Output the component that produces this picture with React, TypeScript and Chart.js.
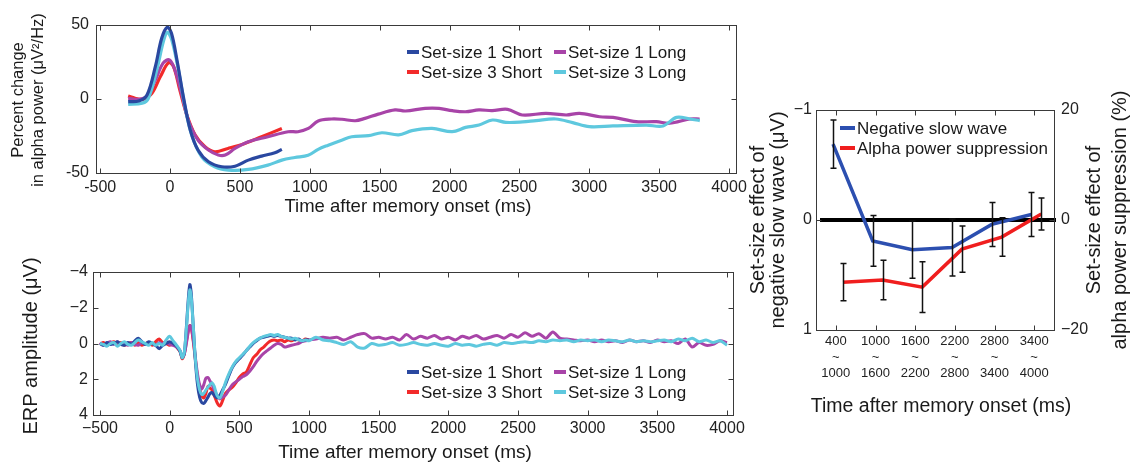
import React, { useEffect, useRef } from "react";
import { Chart, registerables } from "chart.js";
Chart.register(...registerables);

const FONT = "'Liberation Sans', Arial, Helvetica, sans-serif";
const W = 1131;
const H = 467;

const C_BLUE = "#2a48a0";
const C_RED = "#f22a2a";
const C_MAGENTA = "#a844a8";
const C_CYAN = "#5ec8de";
const C_RP_BLUE = "#2c4fb0";
const C_RP_RED = "#f01e1e";

const seriesLabels = ["Set-size 1 Short", "Set-size 3 Short", "Set-size 1 Long", "Set-size 3 Long"];

// ---------- Top panel: alpha power percent change ----------
const alphaTicksX = [-500, 0, 500, 1000, 1500, 2000, 2500, 3000, 3500, 4000];
const alphaTicksY = [-50, 0, 50];

const alphaSS1ShortTimes = [-300, -225, -165, -105, -60, -20, 10, 50, 95, 145, 200, 275, 370, 465, 560, 655, 750, 800];
const alphaSS1ShortValues = [-1.8, -1.4, 2.7, 22, 41, 48.5, 44.5, 26, 1.6, -21, -34.5, -42.4, -45.8, -45.4, -41.3, -38.6, -36.3, -34];

const alphaSS3ShortTimes = [-300, -250, -190, -130, -70, -10, 25, 70, 120, 180, 250, 320, 415, 535, 655, 800];
const alphaSS3ShortValues = [2, 0.5, -0.2, 3.8, 15, 24.6, 21.9, 6.1, -10.8, -24.4, -32.3, -35.7, -33.4, -30, -25.5, -19.9];

const alphaSS1LongTimes = [-300, -225, -165, -105, -50, -5, 35, 85, 130, 200, 275, 345, 395, 465, 560, 700, 845, 915, 990, 1060, 1155, 1230, 1325, 1395, 1490, 1610, 1685, 1825, 1925, 2020, 2115, 2210, 2305, 2415, 2520, 2690, 2835, 2930, 3075, 3170, 3335, 3480, 3575, 3720, 3790];
const alphaSS1LongValues = [0.5, -0.2, 2, 12.9, 24.2, 26.4, 19.6, 2.7, -14.2, -27.8, -34.5, -37.9, -37.9, -33.4, -28.9, -25.5, -22.1, -22.1, -19.9, -14.8, -13.5, -13.7, -14.7, -13.1, -10.2, -7.4, -8.1, -6.3, -6.3, -7.9, -8.6, -7.4, -7.8, -7, -10.8, -9.7, -10.8, -9.7, -12, -12.4, -15.3, -15.3, -16.4, -13.5, -13.5];

const alphaSS3LongTimes = [-300, -200, -155, -95, -48, -20, 12, 60, 107, 155, 226, 320, 417, 560, 700, 800, 893, 988, 1060, 1132, 1228, 1300, 1420, 1516, 1636, 1731, 1875, 2019, 2115, 2211, 2307, 2403, 2523, 2619, 2761, 2881, 3001, 3169, 3408, 3528, 3624, 3720, 3791];
const alphaSS3LongValues = [-3.6, -2.9, 0.5, 19.6, 38.8, 45, 40, 19.6, -5.2, -24.4, -39, -45.8, -48, -47.6, -44.7, -41.3, -39.5, -38, -34, -31.2, -27.8, -25.5, -24.8, -22.8, -24.2, -21.4, -19.9, -22.1, -19.2, -17.6, -14.2, -15.8, -15.5, -14.6, -13.5, -16, -18.7, -18.2, -17.6, -18.2, -12.4, -13.5, -14.6];

// ---------- Bottom panel: ERP ----------
const erpTicksX = [-500, 0, 500, 1000, 1500, 2000, 2500, 3000, 3500, 4000];
const erpTicksY = [-4, -2, 0, 2, 4];

const erpTimesEarly = [-500, -475, -450, -425, -400, -375, -350, -325, -300, -275, -250, -225, -200, -175, -150, -125, -100, -75, -50, -25, 0, 25, 50, 75, 90, 105, 120, 135, 145, 155, 170, 185, 200, 215, 230, 245, 260, 275, 290, 305, 320, 340, 360, 380, 400, 425, 450, 475, 500, 525, 550, 575, 600, 625, 650, 675, 700, 725, 750, 775, 800, 825, 850, 875, 900, 925, 950, 975, 1000];
const erpTimesLate = [1050, 1100, 1150, 1200, 1250, 1300, 1350, 1400, 1450, 1500, 1550, 1600, 1650, 1700, 1750, 1800, 1850, 1900, 1950, 2000, 2050, 2100, 2150, 2200, 2250, 2300, 2350, 2400, 2450, 2500, 2550, 2600, 2650, 2700, 2750, 2800, 2850, 2900, 2950, 3000, 3050, 3100, 3150, 3200, 3250, 3300, 3350, 3400, 3450, 3500, 3550, 3600, 3650, 3700, 3750, 3800, 3850, 3900, 3950, 4000];

const erpSS1Short = [0.0, 0.1, -0.05, 0.05, 0.0, -0.1, 0.05, 0.1, -0.05, 0.05, -0.15, -0.3, -0.1, 0.05, -0.1, 0.0, 0.1, 0.3, 0.1, 0.0, -0.1, 0.0, 0.15, 0.45,
  0.8, 0.55, -0.9, -2.6, -3.3, -2.8, -0.9, 1.0, 2.3, 3.0, 3.3, 3.35, 3.2, 3.0, 2.8, 2.75, 2.9, 3.05, 2.9, 2.6,
  2.3, 1.8, 1.35, 1.05, 0.85, 0.65, 0.4, 0.2, 0.0, -0.15, -0.3, -0.35, -0.4, -0.45, -0.4, -0.45, -0.4, -0.35, -0.3, -0.3, -0.2, -0.25, -0.15, -0.2, -0.2];

const erpSS3Short = [0.05, -0.05, 0.1, 0.0, -0.1, 0.1, -0.05, 0.1, 0.0, -0.05, 0.1, -0.05, 0.1, 0.0, -0.05, 0.1, -0.1, -0.25, -0.05, 0.0, 0.1, -0.05, 0.2, 0.45,
  0.85, 0.6, -0.1, -0.8, -1.0, -0.9, -0.1, 0.9, 1.9, 2.5, 2.9, 3.05, 2.8, 2.4, 2.5, 2.6, 2.9, 3.3, 3.5, 3.2,
  2.8, 2.6, 2.45, 2.2, 1.9, 1.7, 1.6, 1.2, 0.8, 0.6, 0.35, 0.2, 0.0, -0.15, -0.2, -0.15, -0.2, -0.1, -0.2, -0.15, -0.25, -0.2, -0.15, -0.25, -0.2];

const erpSS1LongEarly = [-0.05, 0.1, 0.0, -0.1, 0.05, -0.1, 0.05, 0.0, 0.1, -0.05, 0.05, 0.1, -0.05, 0.05, -0.05, 0.0, 0.1, -0.05, 0.0, -0.1, 0.05, 0.1, 0.2, 0.4,
  0.75, 0.6, 0.0, -0.7, -1.0, -0.9, -0.2, 0.8, 1.7, 2.3, 2.55, 2.3, 1.95, 1.9, 2.1, 2.3, 2.6, 2.9, 3.1, 3.0,
  2.9, 2.6, 2.3, 2.15, 2.0, 1.85, 1.75, 1.55, 1.3, 1.0, 0.75, 0.55, 0.4, 0.25, 0.1, 0.0, 0.05, 0.2, 0.15, 0.1, 0.05, 0.0, -0.1, -0.15, -0.2];
const erpSS1LongLate = [-0.25, -0.35, -0.3, -0.35, -0.2, -0.35, -0.5, -0.55, -0.3, -0.35,
  -0.25, -0.35, -0.2, -0.5, -0.25, -0.4, -0.3, -0.45, -0.25, -0.35,
  -0.2, -0.4, -0.3, -0.45, -0.25, -0.35, -0.45, -0.3, -0.5, -0.35,
  -0.6, -0.4, -0.55, -0.3, -0.65, -0.3, -0.25, -0.2, -0.15, -0.2,
  -0.1, -0.2, -0.1, -0.15, -0.05, -0.2, -0.1, -0.15, -0.05, -0.2,
  -0.1, -0.15, 0.0, -0.25, 0.2, -0.05, 0.1, 0.05, -0.15, -0.05];

const erpSS3LongEarly = [0.0, 0.05, 0.15, 0.0, -0.05, 0.15, 0.0, -0.1, 0.05, 0.1, -0.05, -0.2, -0.1, 0.0, 0.1, -0.05, 0.1, 0.0, 0.1, -0.2, -0.4, -0.15, 0.1, 0.4,
  0.8, 0.5, -0.8, -2.4, -3.0, -2.6, -0.9, 0.9, 2.0, 2.6, 2.85, 2.8, 2.6, 2.45, 2.3, 2.2, 2.4, 2.9, 3.05, 2.7,
  2.2, 1.7, 1.3, 1.0, 0.8, 0.6, 0.4, 0.15, -0.05, -0.2, -0.3, -0.4, -0.45, -0.5, -0.45, -0.5, -0.4, -0.35, -0.3, -0.25, -0.3, -0.2, -0.15, -0.2, -0.15];
const erpSS3LongLate = [-0.35, -0.2, -0.15, -0.05, 0.05, -0.1, 0.2, 0.25, 0.0, 0.1,
  0.05, -0.05, 0.1, 0.05, -0.05, 0.05, 0.1, 0.0, 0.1, 0.15,
  0.0, 0.1, 0.05, 0.15, 0.05, 0.0, 0.1, -0.05, 0.0, -0.05,
  -0.1, -0.05, -0.15, -0.1, -0.2, -0.15, -0.2, -0.1, -0.2, -0.15,
  -0.2, -0.1, -0.2, -0.15, -0.1, -0.2, -0.1, -0.15, -0.1, -0.15,
  -0.2, -0.1, -0.25, -0.15, -0.3, -0.1, -0.2, -0.05, -0.15, 0.1];

// ---------- Right panel: set-size effects ----------
const windowStarts = ["400", "1000", "1600", "2200", "2800", "3400"];
const windowEnds = ["1000", "1600", "2200", "2800", "3400", "4000"];
const windowIndex = [1, 2, 3, 4, 5, 6];
const slowWaveEffect = [-0.69, 0.19, 0.27, 0.25, 0.04, -0.05];
const slowWaveError = [0.22, 0.23, 0.26, 0.26, 0.2, 0.2];
const alphaEffect = [-11.3, -10.9, -12.2, -5.3, -3.1, 1.1];
const alphaError = [3.4, 3.6, 4.6, 4.2, 3.5, 2.9];
const effectTicksLeft = [-1, 0, 1];
const effectTicksRight = [-20, 0, 20];
const slowWaveOffset = -0.07;
const alphaOffset = 0.18;

const pts = (ts: number[], vs: number[]) => ts.map((t, i) => ({ x: t, y: vs[i] }));
const minusFmt = (v: number) => (v < 0 ? "\u2212" + Math.abs(v) : String(v));

// ---------- Plugins ----------
const boxTicksPlugin = {
  id: "boxTicks",
  afterDatasetsDraw(chart: any, _a: any, opts: any) {
    const { ctx, chartArea: a } = chart;
    ctx.save();
    ctx.strokeStyle = "#3a3a3a";
    ctx.lineWidth = 1;
    const l = Math.round(a.left) + 0.5, t = Math.round(a.top) + 0.5;
    const r = Math.round(a.right) + 0.5, b = Math.round(a.bottom) + 0.5;
    ctx.strokeRect(l, t, r - l, b - t);
    const L = 5;
    ctx.beginPath();
    const xs = chart.scales.x;
    for (const tk of xs.ticks) {
      const p = Math.round(xs.getPixelForValue(tk.value)) + 0.5;
      ctx.moveTo(p, b); ctx.lineTo(p, b - L);
      ctx.moveTo(p, t); ctx.lineTo(p, t + L);
    }
    for (const s of opts.y || []) {
      const ys = chart.scales[s.id];
      for (const tk of ys.ticks) {
        const p = Math.round(ys.getPixelForValue(tk.value)) + 0.5;
        if (s.left) { ctx.moveTo(l, p); ctx.lineTo(l + L, p); }
        if (s.right) { ctx.moveTo(r, p); ctx.lineTo(r - L, p); }
      }
    }
    ctx.stroke();
    ctx.restore();
  },
};

const textPlugin = {
  id: "texts",
  afterDraw(chart: any, _a: any, opts: any) {
    const ctx = chart.ctx;
    for (const t of opts.items || []) {
      ctx.save();
      ctx.font = `${t.size}px ${FONT}`;
      ctx.fillStyle = "#1a1a1a";
      ctx.textAlign = "center";
      ctx.textBaseline = "middle";
      ctx.translate(t.x, t.y);
      if (t.rot) ctx.rotate(t.rot);
      ctx.fillText(t.text, 0, 0);
      ctx.restore();
    }
  },
};

const legendPlugin = {
  id: "customLegend",
  afterDraw(chart: any, _a: any, opts: any) {
    const ctx = chart.ctx;
    for (const it of opts.items || []) {
      const ds = chart.data.datasets[it.index];
      ctx.save();
      ctx.strokeStyle = ds.borderColor;
      ctx.lineWidth = opts.swatchWidth;
      ctx.beginPath();
      ctx.moveTo(it.x, it.y);
      ctx.lineTo(it.x + opts.swatchLen, it.y);
      ctx.stroke();
      ctx.font = `${opts.size}px ${FONT}`;
      ctx.fillStyle = "#1a1a1a";
      ctx.textAlign = "left";
      ctx.textBaseline = "middle";
      ctx.fillText(ds.label, it.x + opts.swatchLen + opts.gap, it.y + 1);
      ctx.restore();
    }
  },
};

const errorBarPlugin = {
  id: "errorBars",
  afterDatasetsDraw(chart: any) {
    const ctx = chart.ctx;
    const xs = chart.scales.x;
    chart.data.datasets.forEach((ds: any) => {
      if (!ds.errors) return;
      const ys = chart.scales[ds.yAxisID];
      ctx.save();
      ctx.strokeStyle = "#111";
      ctx.lineWidth = 1.5;
      ds.data.forEach((p: any, i: number) => {
        const e = ds.errors[i];
        const px = Math.round(xs.getPixelForValue(p.x)) + 0.5;
        const y1 = ys.getPixelForValue(p.y - e);
        const y2 = ys.getPixelForValue(p.y + e);
        ctx.beginPath();
        ctx.moveTo(px, y1); ctx.lineTo(px, y2);
        ctx.moveTo(px - 3, y1); ctx.lineTo(px + 3, y1);
        ctx.moveTo(px - 3, y2); ctx.lineTo(px + 3, y2);
        ctx.stroke();
      });
      ctx.restore();
    });
  },
};

const zeroLinePlugin = {
  id: "zeroLine",
  beforeDatasetsDraw(chart: any) {
    const { ctx, chartArea: a } = chart;
    const p = chart.scales.y.getPixelForValue(0);
    ctx.save();
    ctx.strokeStyle = "#000";
    ctx.lineWidth = 4;
    ctx.beginPath();
    ctx.moveTo(a.left + 4, p);
    ctx.lineTo(a.right + 2, p);
    ctx.stroke();
    ctx.restore();
  },
};

const tickFont = (size: number) => ({ family: FONT, size });
const fixedTicks = (vals: number[]) => (s: any) => { s.ticks = vals.map((v) => ({ value: v })); };
const noGrid = { display: false, drawTicks: false };

function makeTop(canvas: HTMLCanvasElement) {
  return new Chart(canvas, {
    type: "line",
    data: {
      datasets: [
        { label: seriesLabels[0], data: pts(alphaSS1ShortTimes, alphaSS1ShortValues), borderColor: C_BLUE },
        { label: seriesLabels[3], data: pts(alphaSS3LongTimes, alphaSS3LongValues), borderColor: C_CYAN },
        { label: seriesLabels[2], data: pts(alphaSS1LongTimes, alphaSS1LongValues), borderColor: C_MAGENTA },
        { label: seriesLabels[1], data: pts(alphaSS3ShortTimes, alphaSS3ShortValues), borderColor: C_RED },
      ] as any,
    },
    options: {
      responsive: false,
      animation: false,
      devicePixelRatio: 1,
      layout: { padding: { left: 0, right: W - 736, top: 25, bottom: 0 } },
      elements: { point: { radius: 0 }, line: { borderWidth: 3.2, tension: 0.35, fill: false } },
      scales: {
        x: {
          type: "linear", min: -530, max: 4050,
          afterBuildTicks: fixedTicks(alphaTicksX),
          afterFit: (s: any) => { s.height = H - 173; },
          grid: noGrid, border: { display: false },
          ticks: { padding: 5, font: tickFont(16), color: "#222", maxRotation: 0, autoSkip: false, callback: (v: any) => String(v) },
        },
        y: {
          type: "linear", min: -50, max: 50,
          afterBuildTicks: fixedTicks(alphaTicksY),
          afterFit: (s: any) => { s.width = 96; },
          grid: noGrid, border: { display: false },
          ticks: { padding: 7, font: tickFont(16), color: "#222", callback: (v: any) => String(v) },
        },
      },
      plugins: {
        legend: { display: false },
        tooltip: { enabled: false },
        boxTicks: { y: [{ id: "y", left: true, right: true }] },
        texts: {
          items: [
            { text: "Percent change", x: 18, y: 100, rot: -Math.PI / 2, size: 16.5 },
            { text: "in alpha power (\u03bcV\u00b2/Hz)", x: 38, y: 100, rot: -Math.PI / 2, size: 16.5 },
            { text: "Time after memory onset (ms)", x: 408, y: 207, size: 18.5 },
          ],
        },
        customLegend: {
          size: 17, swatchLen: 12, swatchWidth: 4, gap: 2,
          items: [
            { index: 0, x: 407, y: 52 },
            { index: 3, x: 407, y: 72 },
            { index: 2, x: 554, y: 52 },
            { index: 1, x: 554, y: 72 },
          ],
        },
      } as any,
    },
    plugins: [boxTicksPlugin, textPlugin, legendPlugin],
  } as any);
}

function makeBottom(canvas: HTMLCanvasElement) {
  const longT = [...erpTimesEarly, ...erpTimesLate];
  return new Chart(canvas, {
    type: "line",
    data: {
      datasets: [
        { label: seriesLabels[3], data: pts(longT, [...erpSS3LongEarly, ...erpSS3LongLate]), borderColor: C_CYAN },
        { label: seriesLabels[0], data: pts(erpTimesEarly, erpSS1Short), borderColor: C_BLUE },
        { label: seriesLabels[2], data: pts(longT, [...erpSS1LongEarly, ...erpSS1LongLate]), borderColor: C_MAGENTA },
        { label: seriesLabels[1], data: pts(erpTimesEarly, erpSS3Short), borderColor: C_RED },
      ] as any,
    },
    options: {
      responsive: false,
      animation: false,
      devicePixelRatio: 1,
      layout: { padding: { left: 0, right: W - 733, top: 272, bottom: 0 } },
      elements: { point: { radius: 0 }, line: { borderWidth: 3, tension: 0.3, fill: false } },
      scales: {
        x: {
          type: "linear", min: -550, max: 4043,
          afterBuildTicks: fixedTicks(erpTicksX),
          afterFit: (s: any) => { s.height = H - 415; },
          grid: noGrid, border: { display: false },
          ticks: { padding: 4, font: tickFont(16), color: "#222", maxRotation: 0, autoSkip: false, callback: (v: any) => minusFmt(v) },
        },
        y: {
          type: "linear", min: -4, max: 4, reverse: true,
          afterBuildTicks: fixedTicks(erpTicksY),
          afterFit: (s: any) => { s.width = 93; },
          grid: noGrid, border: { display: false },
          ticks: { padding: 5, font: tickFont(16), color: "#222", callback: (v: any) => minusFmt(v) },
        },
      },
      plugins: {
        legend: { display: false },
        tooltip: { enabled: false },
        boxTicks: { y: [{ id: "y", left: true, right: true }] },
        texts: {
          items: [
            { text: "ERP amplitude (\u03bcV)", x: 31, y: 346, rot: -Math.PI / 2, size: 20 },
            { text: "Time after memory onset (ms)", x: 405, y: 453, size: 19 },
          ],
        },
        customLegend: {
          size: 17, swatchLen: 12, swatchWidth: 4, gap: 2,
          items: [
            { index: 1, x: 407, y: 372 },
            { index: 3, x: 407, y: 392 },
            { index: 2, x: 554, y: 372 },
            { index: 0, x: 554, y: 392 },
          ],
        },
      } as any,
    },
    plugins: [boxTicksPlugin, textPlugin, legendPlugin],
  } as any);
}

function makeRight(canvas: HTMLCanvasElement) {
  return new Chart(canvas, {
    type: "line",
    data: {
      datasets: [
        {
          label: "Negative slow wave",
          data: windowIndex.map((w, i) => ({ x: w + slowWaveOffset, y: slowWaveEffect[i] })),
          errors: slowWaveError,
          borderColor: C_RP_BLUE, yAxisID: "y",
        },
        {
          label: "Alpha power suppression",
          data: windowIndex.map((w, i) => ({ x: w + alphaOffset, y: alphaEffect[i] })),
          errors: alphaError,
          borderColor: C_RP_RED, yAxisID: "y1",
        },
      ] as any,
    },
    options: {
      responsive: false,
      animation: false,
      devicePixelRatio: 1,
      layout: { padding: { left: 740, right: 0, top: 110, bottom: 0 } },
      elements: { point: { radius: 0 }, line: { borderWidth: 3.5, tension: 0, fill: false } },
      scales: {
        x: {
          type: "linear", min: 0.5, max: 6.5,
          afterBuildTicks: fixedTicks(windowIndex),
          afterFit: (s: any) => { s.height = H - 330; },
          grid: noGrid, border: { display: false },
          ticks: {
            padding: 4, font: { family: FONT, size: 13, lineHeight: 1.2 }, color: "#222", maxRotation: 0, autoSkip: false,
            callback: (v: any) => { const i = Math.round(v) - 1; return [windowStarts[i], "~", windowEnds[i]]; },
          },
        },
        y: {
          type: "linear", position: "left", min: -1, max: 1, reverse: true,
          afterBuildTicks: fixedTicks(effectTicksLeft),
          afterFit: (s: any) => { s.width = 76; },
          grid: noGrid, border: { display: false },
          ticks: { padding: 4, font: tickFont(16), color: "#222", callback: (v: any) => minusFmt(v) },
        },
        y1: {
          type: "linear", position: "right", min: -20, max: 20,
          afterBuildTicks: fixedTicks(effectTicksRight),
          afterFit: (s: any) => { s.width = 77; },
          grid: noGrid, border: { display: false },
          ticks: { padding: 7, font: tickFont(16), color: "#222", callback: (v: any) => minusFmt(v) },
        },
      },
      plugins: {
        legend: { display: false },
        tooltip: { enabled: false },
        boxTicks: { y: [{ id: "y", left: true, right: false }, { id: "y1", left: false, right: true }] },
        texts: {
          items: [
            { text: "Set-size effect of", x: 758, y: 220, rot: -Math.PI / 2, size: 20 },
            { text: "negative slow wave (\u03bcV)", x: 778, y: 220, rot: -Math.PI / 2, size: 20 },
            { text: "Set-size effect of", x: 1094, y: 220, rot: -Math.PI / 2, size: 20 },
            { text: "alpha power suppression (%)", x: 1120, y: 220, rot: -Math.PI / 2, size: 20 },
            { text: "Time after memory onset (ms)", x: 941, y: 407, size: 19.5 },
          ],
        },
        customLegend: {
          size: 17, swatchLen: 15, swatchWidth: 4, gap: 2,
          items: [
            { index: 0, x: 840, y: 128 },
            { index: 1, x: 840, y: 148 },
          ],
        },
      } as any,
    },
    plugins: [zeroLinePlugin, errorBarPlugin, boxTicksPlugin, textPlugin, legendPlugin],
  } as any);
}

export default function App() {
  const topRef = useRef<HTMLCanvasElement>(null);
  const botRef = useRef<HTMLCanvasElement>(null);
  const rightRef = useRef<HTMLCanvasElement>(null);

  useEffect(() => {
    const charts = [
      makeTop(topRef.current!),
      makeBottom(botRef.current!),
      makeRight(rightRef.current!),
    ];
    return () => charts.forEach((c) => c.destroy());
  }, []);

  const cs: React.CSSProperties = { position: "absolute", left: 0, top: 0, width: W, height: H };
  return (
    <div style={{ position: "absolute", left: 0, top: 0, width: W, height: H, background: "#fff", overflow: "hidden" }}>
      <canvas ref={topRef} width={W} height={H} style={cs} />
      <canvas ref={botRef} width={W} height={H} style={cs} />
      <canvas ref={rightRef} width={W} height={H} style={cs} />
    </div>
  );
}
